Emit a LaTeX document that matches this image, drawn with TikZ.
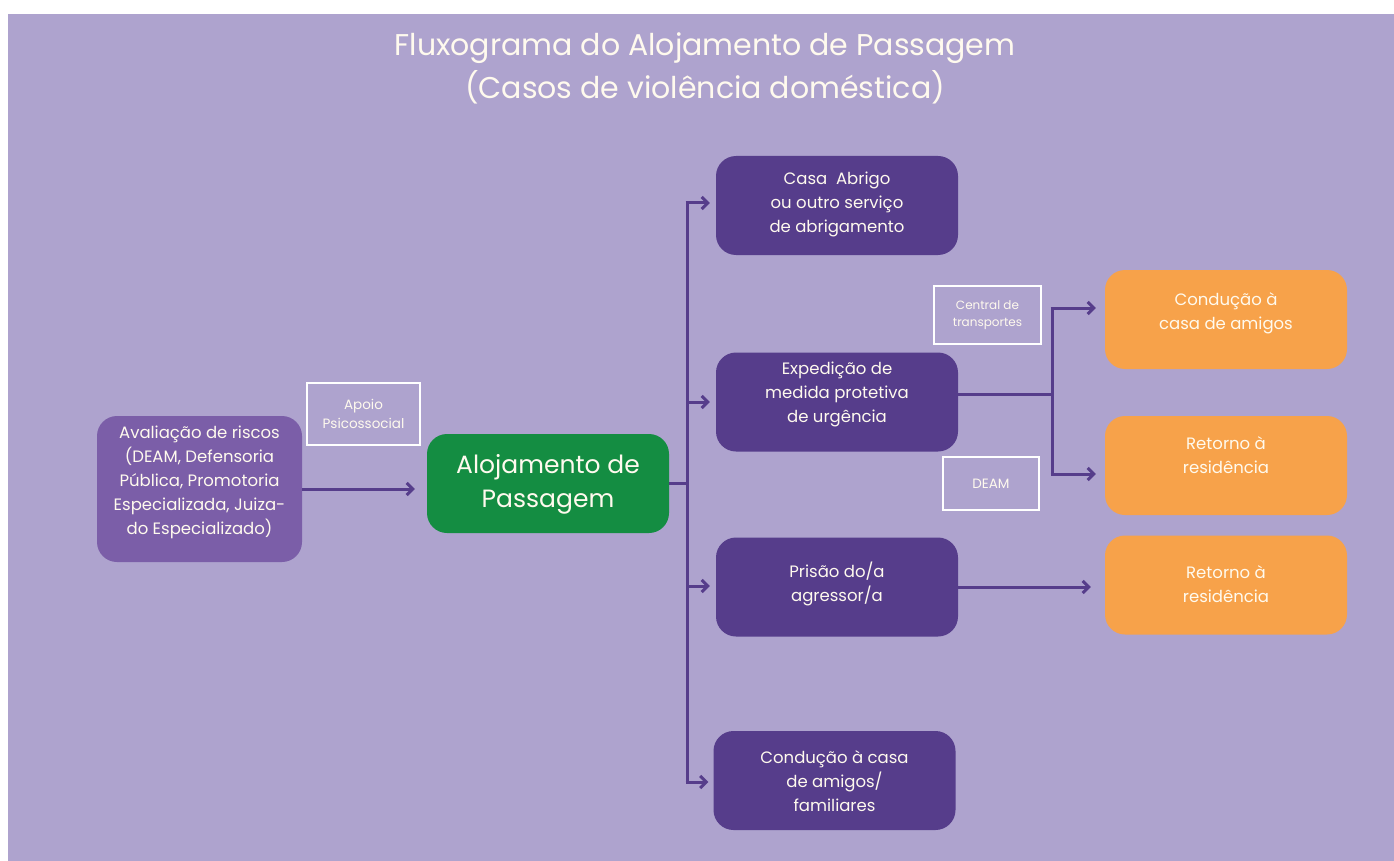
\documentclass[tikz,border=0pt]{standalone}
\usepackage{fontspec}
\setmainfont{Poppins}
\usetikzlibrary{arrows.meta}
\definecolor{bg}{RGB}{174,163,206}
\definecolor{avalc}{RGB}{123,94,168}
\definecolor{dpurp}{RGB}{86,61,139}
\definecolor{greenc}{RGB}{20,141,66}
\definecolor{orangec}{RGB}{247,162,74}
\definecolor{cream}{RGB}{255,250,238}
\tikzset{
  box/.style={rounded corners=20pt, minimum width=242pt, minimum height=99pt, inner sep=0pt},
  pbox/.style={box, fill=dpurp},
  obox/.style={box, fill=orangec},
  txt/.style={text=cream, align=center, inner sep=0pt, font=\fontsize{16.5}{24}\selectfont},
  wbox/.style={draw=white, line width=1.6pt, inner sep=0pt, text=cream, align=center},
  ln/.style={draw=dpurp, line width=3pt},
  arr/.style={draw=dpurp, line width=3pt, -{Straight Barb[length=6pt,width=12pt]}},
}
\begin{document}
\begin{tikzpicture}[x=1pt,y=-1pt]
\useasboundingbox (0,0) rectangle (1394,861);
\fill[bg] (8,14) rectangle (1394,861);

% title
\node[text=cream, align=center, font=\fontsize{30}{43}\selectfont] (title) at (705,68)
  {Fluxograma do Alojamento de Passagem\\(Casos de violência doméstica)};

% left side
\node[box, fill=avalc, minimum width=205pt, minimum height=146pt] (aval) at (199.5,489) {};
\node[txt] (avalt) at (199.5,482) {Avaliação de riscos\\(DEAM, Defensoria\\Pública, Promotoria\\Especializada, Juiza-\\do Especializado)};
\node[wbox, minimum width=113pt, minimum height=62pt, font=\fontsize{13.5}{19}\selectfont] (apoio) at (363.5,414) {Apoio\\Psicossocial};

\node[box, fill=greenc, minimum height=99pt] (aloj) at (548,483.5) {};
\node[txt, font=\fontsize{25}{34}\selectfont] (alojt) at (548,484) {Alojamento de\\Passagem};

% middle column
\node[pbox] (abrigo) at (837,205.5) {};
\node[txt] (abrigot) at (837,204) {Casa\ \ Abrigo\\ou outro serviço\\de abrigamento};
\node[pbox] (exped) at (837,402) {};
\node[txt] (expedt) at (837,394) {Expedição de\\medida protetiva\\de urgência};
\node[pbox] (prisao) at (837,587) {};
\node[txt] (prisaot) at (837,584) {Prisão do/a\\agressor/a};
\node[pbox] (cond) at (834.5,780.5) {};
\node[txt] (condt) at (834.5,781) {Condução à casa\\de amigos/\\familiares};

% small white boxes
\node[wbox, minimum width=107pt, minimum height=58pt, font=\fontsize{12}{17}\selectfont] (central) at (987.5,315) {Central de\\transportes};
\node[wbox, minimum width=96pt, minimum height=53pt, font=\fontsize{13.5}{19}\selectfont] (deam) at (991,483.5) {DEAM};

% right column
\node[obox] (o1) at (1226,319.5) {};
\node[txt] (o1t) at (1226,313.5) {Condução à\\casa de amigos};
\node[obox] (o2) at (1226,465.5) {};
\node[txt] (o2t) at (1226,455.5) {Retorno à\\residência};
\node[obox] (o3) at (1226,585) {};
\node[txt] (o3t) at (1226,584.5) {Retorno à\\residência};

% connectors
\draw[arr, shorten >=12pt] (aval.east) -- (aval.east -| aloj.west);

\coordinate (t1) at (687,203);
\coordinate (t2) at (687,402);
\coordinate (t3) at (687,586);
\coordinate (t4) at (687,782);
\draw[ln] (aloj.east) -- (aloj.east -| t1);
\draw[ln] ([yshift=-1.5pt]t1) -- ([yshift=1.5pt]t4);
\draw[arr, shorten >=6pt] ([xshift=-1.5pt]t1) -- (t1 -| abrigo.west);
\draw[arr, shorten >=6pt] (t2) -- (t2 -| exped.west);
\draw[arr, shorten >=6pt] (t3) -- (t3 -| prisao.west);
\draw[arr, shorten >=5pt] ([xshift=-1.5pt]t4) -- (t4 -| cond.west);

\coordinate (u0) at (1052,394);
\coordinate (u1) at (1052,308);
\coordinate (u2) at (1052,474);
\draw[ln] (exped.east |- u0) -- (u0);
\draw[ln] ([yshift=-1.5pt]u1) -- ([yshift=1.5pt]u2);
\draw[arr, shorten >=9pt] ([xshift=-1.5pt]u1) -- (u1 -| o1.west);
\draw[arr, shorten >=9pt] ([xshift=-1.5pt]u2) -- (u2 -| o2.west);

\draw[arr, shorten >=14pt] (prisao.east) -- (prisao.east -| o3.west);
\end{tikzpicture}
\end{document}
